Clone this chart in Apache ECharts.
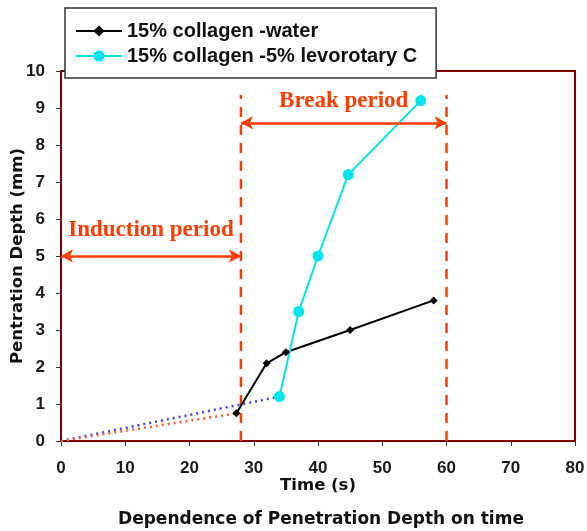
<!DOCTYPE html>
<html>
<head>
<meta charset="utf-8">
<script src="https://cdn.jsdelivr.net/npm/echarts@6/dist/echarts.min.js"></script>
<style>
  html, body { margin: 0; padding: 0; background: #fff; }
  #chart { width: 587px; height: 531px; }
</style>
</head>
<body>
<div id="chart"></div>
<script>
// 15% collagen - water
var waterX = [27.3, 32, 35, 45, 58];
var waterY = [0.75, 2.1, 2.4, 3.0, 3.8];
// 15% collagen - 5% levorotary C
var vitcX = [34, 37, 40, 44.7, 56];
var vitcY = [1.2, 3.5, 5.0, 7.2, 9.2];
// dotted extrapolations back to origin
var blueDotX = [0, 34];
var blueDotY = [0, 1.2];
var redDotX = [0, 27.3];
var redDotY = [0, 0.75];
// periods
var periodStart = 28;
var periodEnd = 60;
var periodTop = 9.35;
var inductionY = 5;
var breakY = 8.6;
var xTicks = [0, 10, 20, 30, 40, 50, 60, 70, 80];
var yTicks = [0, 1, 2, 3, 4, 5, 6, 7, 8, 9, 10];

var names = ['15% collagen -water', '15% collagen -5% levorotary C'];
var orange = '#ff3c00';

function pairs(xs, ys) {
    return xs.map(function (x, i) { return [x, ys[i]]; });
}

var chart = echarts.init(document.getElementById('chart'));

var labelFont = {
    fontFamily: 'Liberation Sans, Arial, sans-serif',
    fontWeight: 'bold',
    fontSize: 17,
    color: '#1a1a1a'
};
var nameFont = {
    fontFamily: 'DejaVu Sans, sans-serif',
    fontWeight: 'bold',
    fontSize: 16.5,
    color: '#111'
};

chart.setOption({
    backgroundColor: '#ffffff',
    animation: false,
    title: {
        text: 'Dependence of Penetration Depth on time',
        left: 316,
        textAlign: 'center',
        top: 506,
        textStyle: {
            fontFamily: 'DejaVu Sans, sans-serif',
            fontWeight: 'bold',
            fontSize: 17,
            color: '#111'
        }
    },
    legend: {
        left: 65,
        top: 8,
        orient: 'vertical',
        data: names,
        itemWidth: 46,
        itemHeight: 14,
        itemGap: 5,
        padding: [13, 19, 12, 10],
        borderColor: '#333',
        borderWidth: 1.5,
        backgroundColor: '#fff',
        textStyle: {
            fontFamily: 'Liberation Sans, Arial, sans-serif',
            fontWeight: 'bold',
            fontSize: 20,
            lineHeight: 20,
            color: '#111'
        }
    },
    grid: {
        left: 61,
        right: 12,
        top: 71,
        bottom: 90,
        outerBoundsMode: 'none',
        containLabel: false,
        show: true,
        borderColor: '#800000',
        borderWidth: 2,
        backgroundColor: 'transparent'
    },
    xAxis: {
        type: 'value',
        min: xTicks[0],
        max: xTicks[xTicks.length - 1],
        interval: 10,
        name: 'Time (s)',
        nameLocation: 'middle',
        nameGap: 36,
        nameMoveOverlap: false,
        nameTextStyle: nameFont,
        splitLine: { show: false },
        axisLine: { lineStyle: { color: '#800000', width: 2 } },
        axisTick: { length: 5, lineStyle: { color: '#333' } },
        axisLabel: Object.assign({ margin: 19 }, labelFont)
    },
    yAxis: {
        type: 'value',
        min: yTicks[0],
        max: yTicks[yTicks.length - 1],
        interval: 1,
        name: 'Pentration Depth (mm)',
        nameLocation: 'middle',
        nameGap: 35,
        nameMoveOverlap: false,
        nameTextStyle: nameFont,
        splitLine: { show: false },
        axisLine: { lineStyle: { color: '#800000', width: 2 } },
        axisTick: { length: 5, lineStyle: { color: '#333' } },
        axisLabel: Object.assign({ margin: 16 }, labelFont)
    },
    series: [
        {
            type: 'line',
            silent: true,
            data: pairs(blueDotX, blueDotY),
            symbol: 'none',
            lineStyle: { color: '#4040ff', width: 2.5, type: [2, 4] }
        },
        {
            type: 'line',
            silent: true,
            data: pairs(redDotX, redDotY),
            symbol: 'none',
            lineStyle: { color: '#ff5a2a', width: 2.5, type: [2, 4] }
        },
        {
            type: 'line',
            silent: true,
            data: [[periodStart, 0], [periodStart, periodTop]],
            symbol: 'none',
            lineStyle: { color: orange, width: 2.5, type: [10, 8] },
            markLine: {
                silent: true,
                symbol: ['arrow', 'arrow'],
                symbolSize: [10, 12],
                lineStyle: { color: orange, width: 2.5, type: 'solid' },
                label: {
                    show: true,
                    position: 'insideMiddleTop',
                    fontFamily: 'Liberation Serif, serif',
                    fontWeight: 'bold',
                    fontSize: 23,
                    color: orange,
                    formatter: function (p) { return p.name; }
                },
                data: [
                    [{ name: 'Induction period', coord: [0, inductionY], label: { distance: 14 } },
                     { coord: [periodStart, inductionY] }],
                    [{ name: 'Break period', coord: [periodStart, breakY], label: { distance: 10 } },
                     { coord: [periodEnd, breakY] }]
                ]
            }
        },
        {
            type: 'line',
            silent: true,
            data: [[periodEnd, 0], [periodEnd, periodTop]],
            symbol: 'none',
            lineStyle: { color: orange, width: 2.5, type: [10, 8] }
        },
        {
            name: names[0],
            type: 'line',
            data: pairs(waterX, waterY),
            symbol: 'diamond',
            symbolSize: 8,
            itemStyle: { color: '#000' },
            lineStyle: { color: '#000', width: 2 }
        },
        {
            name: names[1],
            type: 'line',
            data: pairs(vitcX, vitcY),
            symbol: 'circle',
            symbolSize: 11,
            itemStyle: { color: '#00e5ee' },
            lineStyle: { color: '#00e5ee', width: 2 }
        }
    ]
});
</script>
</body>
</html>
